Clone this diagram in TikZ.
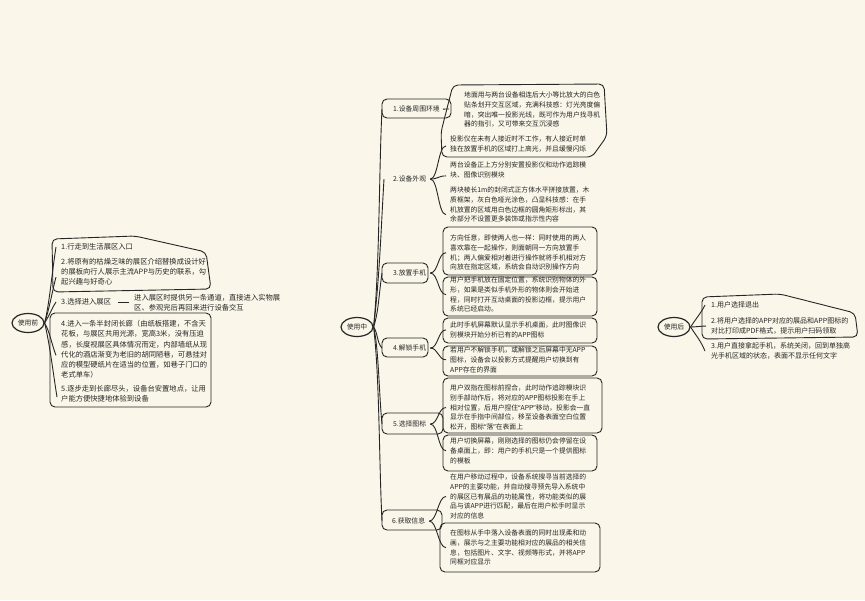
\documentclass[tikz,border=0pt]{standalone}
\usepackage{fontspec}
\newfontfamily\cjkfont{Noto Sans CJK SC}
\newfontfamily\quotefont{Noto Sans}
\newcommand\qopen{{\quotefont “}}
\newcommand\qclose{{\quotefont ”}}
\usetikzlibrary{positioning,shapes.geometric}
\definecolor{paper}{RGB}{250,246,233}
\definecolor{ink}{RGB}{38,38,38}

\begin{document}
\begin{tikzpicture}[
  x=1pt, y=-1pt,
  txt/.style={anchor=north west, inner sep=0pt, yshift=3.3pt, align=left, text=ink, font=\cjkfont\fontsize{6.8}{9.7}\selectfont},
  ltxt/.style={txt, yshift=0.3pt, font=\cjkfont\fontsize{7.3}{10.1}\selectfont},
  rtxt/.style={txt, yshift=0.1pt, font=\cjkfont\fontsize{7}{9.8}\selectfont},
  hub/.style={ellipse, draw=ink, line width=1.2pt, minimum width=32pt, minimum height=19pt, inner sep=0pt, text=ink, font=\cjkfont\fontsize{6.8}{8}\selectfont},
  frame/.style={draw=ink, line width=0.9pt, rounded corners=5pt},
  br/.style={draw=ink, line width=0.9pt}
]
\useasboundingbox (0,0) rectangle (865,600);
\fill[paper] (0,0) rectangle (865,600);

% before use
\node[hub] (pre) at (28,323) {使用前};
\node[ltxt] (L1) at (61,247) {1.行走到生活展区入口};
\node[ltxt] (L2) at (61,262) {2.将原有的枯燥乏味的展区介绍替换成设计好\\的展板向行人展示主流APP与历史的联系，勾\\起兴趣与好奇心};
\node[ltxt] (L3) at (61,302) {3.选择进入展区};
\node[ltxt] (L3a) at (134,298) {进入展区时提供另一条通道，直接进入实物展\\区、参观完后再回来进行设备交互};
\node[ltxt] (L4) at (61,324) {4.进入一条半封闭长廊（由纸板搭建，不含天\\花板，与展区共用光源，宽高3米，没有压迫\\感，长度视展区具体情况而定，内部墙纸从现\\代化的酒店渐变为老旧的胡同陋巷，可悬挂对\\应的模型硬纸片在适当的位置，如巷子门口的\\老式单车）};
\node[ltxt] (L5) at (61,389) {5.逐步走到长廊尽头，设备台安置地点，让用\\户能方便快捷地体验到设备};

\draw[frame] (53,292) -- (52,239) -- (135,236) -- (206,252) -- (211,289) -- cycle;
\draw[frame] (50,313) rectangle (211,407);

\draw[br] (pre.east) .. controls +(5,-20) and +(-4,25) .. ([xshift=-5pt]L1.west);
\draw[br] (pre.east) .. controls +(5,-15) and +(-4,15) .. ([xshift=-5pt,yshift=-5pt]L2.west);
\draw[br] (pre.east) .. controls +(5,-8) and +(-4,6) .. ([xshift=-5pt]L3.west);
\draw[br] (pre.east) .. controls +(5,8) and +(-4,-10) .. ([xshift=-5pt,yshift=-6pt]L4.west);
\draw[br] (pre.east) .. controls +(5,20) and +(-4,-25) .. ([xshift=-4pt,yshift=-3pt]L5.west);
\draw[br] ([xshift=7pt]L3.east) -- ([xshift=-5pt]L3a.west |- L3.east);

% during use
\node[hub] (during) at (357,327) {使用中};
\node[txt] (T1) at (393,109) {1.设备周围环境};
\node[txt] (T2) at (393,179) {2.设备外观};
\node[txt] (T3) at (393,273) {3.放置手机};
\node[txt] (T4) at (393,348) {4.解锁手机};
\node[txt] (T5) at (393,424) {5.选择图标};
\node[txt] (T6) at (392,521) {6.获取信息};

\node[txt] (D1a) at (464,95) {地面用与两台设备相连后大小等比放大的白色\\贴条划开交互区域，充满科技感：灯光亮度偏\\暗，突出唯一投影光线，既可作为用户找寻机\\器的指引，又可带来交互沉浸感};
\node[txt] (D2a) at (450,139) {投影仪在未有人接近时不工作，有人接近时单\\独在放置手机的区域打上高光，并且缓慢闪烁};
\node[txt] (D2b) at (450,165) {两台设备正上方分别安置投影仪和动作追踪模\\块、图像识别模块};
\node[txt] (D2c) at (450,190) {两块棱长1m的封闭式正方体水平拼接放置，木\\质框架，灰白色哑光涂色，凸显科技感：在手\\机放置的区域用白色边框的圆角矩形标出，其\\余部分不设置更多装饰或指示性内容};
\node[txt] (D3a) at (450,238) {方向任意，即使两人也一样：同时使用的两人\\喜欢靠在一起操作，则面朝同一方向放置手\\机；两人偏爱相对着进行操作就将手机相对方\\向放在指定区域，系统会自动识别操作方向};
\node[txt] (D3b) at (450,280) {用户把手机放在固定位置，系统识别物体的外\\形，如果是类似手机外形的物体则会开始进\\程，同时打开互动桌面的投影边框，提示用户\\系统已经启动。};
\node[txt] (D4a) at (450,325) {此时手机屏幕默认显示手机桌面，此时图像识\\别模块开始分析已有的APP图标};
\node[txt] (D4b) at (450,350) {若用户不解锁手机，或解锁之后屏幕中无APP\\图标，设备会以投影方式提醒用户切换到有\\APP存在的界面};
\node[txt] (D5a) at (450,388) {用户双指在图标前捏合，此时动作追踪模块识\\别手部动作后，将对应的APP图标投影在手上\\相对位置，后用户捏住\qopen APP\qclose 移动，投影会一直\\显示在手指中间部位，移至设备表面空白位置\\松开，图标\qopen 落\qclose 在表面上};
\node[txt] (D5b) at (450,441) {用户切换屏幕，刚刚选择的图标仍会停留在设\\备桌面上，即：用户的手机只是一个提供图标\\的模板};
\node[txt] (D6a) at (450,477) {在用户移动过程中，设备系统搜寻当前选择的\\APP的主要功能，并自动搜寻预先导入系统中\\的展区已有展品的功能属性，将功能类似的展\\品与该APP进行匹配，最后在用户松手时显示\\对应的信息};
\node[txt] (D6b) at (450,533) {在图标从手中落入设备表面的同时出现柔和动\\画，展示与之主要功能相对应的展品的相关信\\息，包括图片、文字、视频等形式，并将APP\\同框对应显示};

% frames of the topics and details
\draw[frame] (382,99) rectangle (451,118);
\draw[frame] (382,263) rectangle (428,283);
\draw[frame] (382,338) rectangle (428,357);
\draw[frame] (382,413) rectangle (443,434);
\draw[frame] (382,510) rectangle (442,530);
\draw[frame] (442,157) -- (441,132) -- (453,85) -- (604,84) -- (607,136) -- (592,157) -- cycle;
\draw[frame] (443,227) rectangle (597,275);
\draw[frame] (443,277) rectangle (597,316);
\draw[frame] (443,318) rectangle (597,343);
\draw[frame] (443,346) rectangle (597,376);
\draw[frame] (443,378) rectangle (602,433);
\draw[frame] (443,435) rectangle (597,471);
\draw[frame] (440,523) rectangle (600,572);

\draw[br] (during.east) .. controls +(6,-60) and +(-3,60) .. ([xshift=-11pt]T1.west);
\draw[br] (during.east) .. controls +(6,-50) and +(-3,50) .. ([xshift=-9pt]T2.west);
\draw[br] (during.east) .. controls +(5,-15) and +(-3,20) .. ([xshift=-11pt]T3.west);
\draw[br] (during.east) .. controls +(4,5) and +(-5,-5) .. ([xshift=-11pt]T4.west);
\draw[br] (during.east) .. controls +(5,20) and +(-3,-30) .. ([xshift=-11pt]T5.west);
\draw[br] (during.east) .. controls +(6,50) and +(-3,-60) .. ([xshift=-10pt]T6.west);

\coordinate (g1) at (449,109);
\draw[br] ([xshift=3pt]T1.east) -- (g1);
\foreach \d/\s in {D2a/-2, D2b/-6, D2c/-10}
  \draw[br] ([xshift=4pt]T2.east) .. controls +(8,0) and +(-8,0) .. ([xshift=-4pt,yshift=\s pt]\d.west);
\foreach \d/\s in {D3a/0, D3b/0}
  \draw[br] ([xshift=4pt]T3.east) .. controls +(8,0) and +(-8,0) .. ([xshift=-4pt,yshift=\s pt]\d.west);
\foreach \d/\s in {D4a/0, D4b/0}
  \draw[br] ([xshift=4pt]T4.east) .. controls +(8,0) and +(-8,0) .. ([xshift=-4pt,yshift=\s pt]\d.west);
\foreach \d/\s in {D5a/0, D5b/0}
  \draw[br] ([xshift=4pt]T5.east) .. controls +(8,0) and +(-8,0) .. ([xshift=-4pt,yshift=\s pt]\d.west);
\foreach \d/\s in {D6a/0, D6b/0}
  \draw[br] ([xshift=4pt]T6.east) .. controls +(8,0) and +(-8,0) .. ([xshift=-4pt,yshift=\s pt]\d.west);

% after use
\node[hub] (post) at (674,327) {使用后};
\node[rtxt] (R1) at (711,305) {1.用户选择退出};
\node[rtxt] (R2) at (711,321) {2.将用户选择的APP对应的展品和APP图标的\\对比打印成PDF格式，提示用户扫码领取};
\node[rtxt] (R3) at (711,346) {3.用户直接拿起手机，系统关闭，回到单独高\\光手机区域的状态，表面不显示任何文字};

\draw[frame] (702,339) -- (702,297) -- (780,294) -- (855,313) -- (858,337) -- cycle;

\draw[br] (post.east) .. controls +(5,-8) and +(-4,8) .. ([xshift=-6pt]R1.west);
\draw[br] (post.east) .. controls +(5,0) and +(-5,0) .. ([xshift=-5pt]R2.west);
\draw[br] (post.east) .. controls +(5,8) and +(-4,-10) .. ([xshift=-6pt]R3.west);
\end{tikzpicture}
\end{document}
